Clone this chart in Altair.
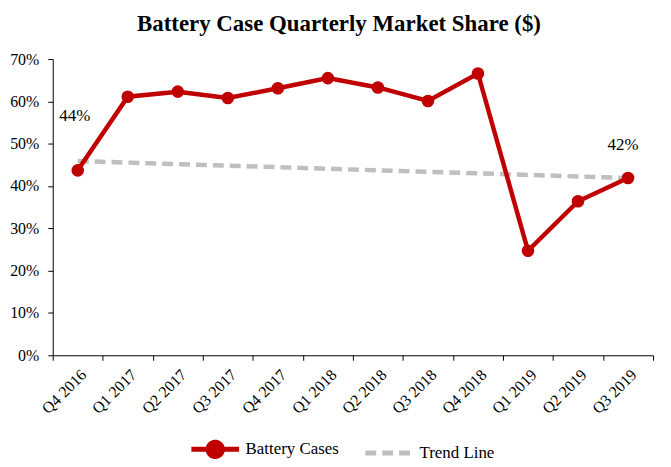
import altair as alt
import pandas as pd

quarters = ["Q4 2016", "Q1 2017", "Q2 2017", "Q3 2017", "Q4 2017", "Q1 2018",
            "Q2 2018", "Q3 2018", "Q4 2018", "Q1 2019", "Q2 2019", "Q3 2019"]
battery_share = [0.437, 0.611, 0.623, 0.608, 0.631, 0.655,
                 0.633, 0.601, 0.666, 0.247, 0.364, 0.419]
trend_quarters = ["Q4 2016", "Q3 2019"]
trend_share = [0.459, 0.419]
label_quarters = ["Q4 2016", "Q3 2019"]
label_values = [0.437, 0.419]
label_text = ["44%", "42%"]

series_names = ["Battery Cases", "Trend Line"]
colors = ["#C00000", "#BFBFBF"]

battery_df = pd.DataFrame({"quarter": quarters, "share": battery_share, "series": series_names[0]})
trend_df = pd.DataFrame({"quarter": trend_quarters, "share": trend_share, "series": series_names[1]})
df = pd.concat([battery_df, trend_df], ignore_index=True)
labels = pd.DataFrame({"quarter": label_quarters, "share": label_values, "text": label_text})

FONT = "Liberation Serif"

x = alt.X("quarter:N", sort=quarters, bandPosition=0.5,
          scale=alt.Scale(type="band", paddingInner=0, paddingOuter=0),
          axis=alt.Axis(title=None, labelAngle=-45, tickBand="extent", labelFontSize=16,
                        labelFont=FONT, labelColor="black", domainColor="black",
                        tickColor="black", tickSize=5, labelPadding=6))
y = alt.Y("share:Q", scale=alt.Scale(domain=[0, 0.7], nice=False),
          axis=alt.Axis(title=None, format=".0%", values=[0, 0.1, 0.2, 0.3, 0.4, 0.5, 0.6, 0.7],
                        grid=False, labelFontSize=16, labelFont=FONT, labelColor="black",
                        domainColor="black", tickColor="black", tickSize=5, labelPadding=9))

battery_symbol = ("M-1,0L-0.3,0M0.3,0L1,0M0.3,0A0.3,0.3 0 1 1 -0.3,0"
                  "A0.3,0.3 0 1 1 0.3,0Z")
legend = alt.Legend(title=None, orient="none", legendX=137, legendY=366, direction="horizontal",
                    symbolSize=2304, symbolStrokeWidth=5, labelFontSize=17, labelFont=FONT,
                    labelColor="black", columnPadding=16, labelOffset=4, symbolOpacity=1)

series_scale = alt.Scale(domain=series_names, range=colors)
fill = alt.Fill("series:N", scale=series_scale, legend=legend)
stroke = alt.Stroke("series:N", scale=series_scale, legend=legend)
dash = alt.StrokeDash("series:N", scale=alt.Scale(domain=series_names, range=[[1, 0], [11, 6]]),
                      legend=legend)
shape = alt.Shape("series:N", scale=alt.Scale(domain=series_names, range=[battery_symbol, "stroke"]),
                  legend=legend)

trend_line = alt.Chart(trend_df).mark_line(strokeWidth=4.5, strokeCap="butt", color=colors[1],
                                           strokeDash=[11, 6]).encode(x=x, y=y)
battery_line = alt.Chart(battery_df).mark_line(strokeWidth=4.5, color=colors[0]).encode(x=x, y=y)
points = alt.Chart(battery_df).mark_point(filled=True, size=160, opacity=1, shape="circle",
                                          color=colors[0]).encode(x=x, y=y)
legend_key = alt.Chart(df).mark_point(opacity=0, size=1).encode(
    x=x, y=y, fill=fill, stroke=stroke, shape=shape, strokeDash=dash)

lab1 = alt.Chart(labels).transform_filter(alt.datum.quarter == label_quarters[0]).mark_text(
    font=FONT, fontSize=17, color="black", dx=-3, dy=-55).encode(x=x, y=y, text="text:N")
lab2 = alt.Chart(labels).transform_filter(alt.datum.quarter == label_quarters[1]).mark_text(
    font=FONT, fontSize=17, color="black", dx=-5, dy=-33).encode(x=x, y=y, text="text:N")

chart = alt.layer(trend_line, battery_line, points, legend_key, lab1, lab2).properties(
    width=604, height=298,
    autosize=alt.AutoSizeParams(type="none"),
    padding={"left": 45, "top": 50, "right": 10, "bottom": 108},
    title=alt.Title("Battery Case Quarterly Market Share ($)", font=FONT, fontSize=23,
                    fontWeight="bold", color="black", offset=15, dx=-14),
).configure(font=FONT).configure_legend(labelFont=FONT, labelFontSize=17, labelColor="black"
).configure_view(stroke=None)

chart.save("out.html", embed_options={"renderer": "svg", "actions": False})
